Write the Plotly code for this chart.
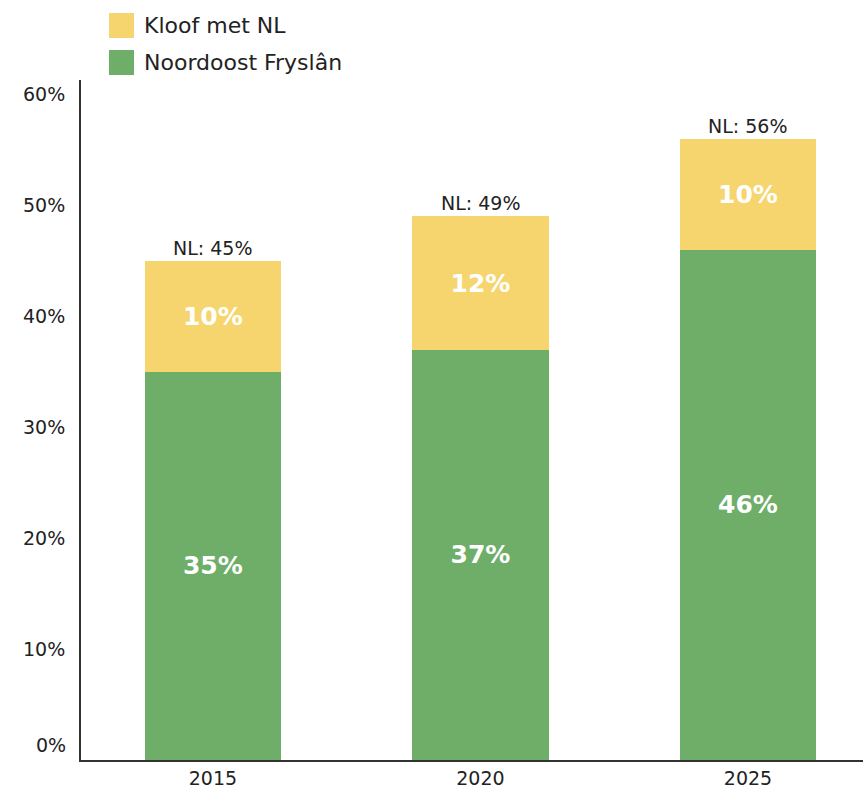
import plotly.graph_objects as go

years = ["2015", "2020", "2025"]
noordoost = [35, 37, 46]
kloof = [10, 12, 10]
nl_totaal = [45, 49, 56]
ytick_vals = [10, 20, 30, 40, 50, 60]

GREEN = "#6EAE69"
YELLOW = "#F6D56F"
FONT = "DejaVu Sans"
TXT = "#222"

fig = go.Figure()
fig.add_bar(x=years, y=noordoost, name="Noordoost Fryslân", marker=dict(color=GREEN, line_width=0),
            text=[f"{v}%" for v in noordoost], textposition="inside", insidetextanchor="middle",
            textfont=dict(color="white", size=25, family=FONT, weight="bold"), width=0.51)
fig.add_bar(x=years, y=kloof, name="Kloof met NL", marker=dict(color=YELLOW, line_width=0),
            text=[f"{v}%" for v in kloof], textposition="inside", insidetextanchor="middle",
            textfont=dict(color="white", size=25, family=FONT, weight="bold"), width=0.51)

for i, t in enumerate(nl_totaal):
    fig.add_annotation(x=i, y=t, xref="x", yref="y", text=f"NL: {t}%", showarrow=False,
                       yanchor="bottom", yshift=0,
                       font=dict(size=19, color=TXT, family=FONT))

# 0% label (drawn slightly above the axis as in the original)
fig.add_annotation(x=0, xref="paper", y=1.35, yref="y", text="0%", showarrow=False,
                   xanchor="right", xshift=-13, font=dict(size=19, color=TXT, family=FONT))

# manual legend
legend_items = [("Kloof met NL", YELLOW), ("Noordoost Fryslân", GREEN)]
W, H, L, T, B = 863, 789, 81, 80, 29
ph = H - T - B
pw = W - L
for i, (name, col) in enumerate(legend_items):
    top = 13 + i * 37
    fig.add_shape(type="rect", xref="paper", yref="paper",
                  x0=(109 - L) / pw, x1=(134 - L) / pw,
                  y0=(H - B - top - 25) / ph, y1=(H - B - top) / ph,
                  fillcolor=col, line_width=0)
    fig.add_annotation(xref="paper", yref="paper", x=(142 - L) / pw, y=(H - B - top - 12.5) / ph,
                       text=name, showarrow=False, xanchor="left", yanchor="middle",
                       font=dict(size=22, color=TXT, family=FONT))

fig.update_layout(
    barmode="stack", width=W, height=H, showlegend=False,
    margin=dict(l=L, r=0, t=T, b=B, autoexpand=False),
    plot_bgcolor="white", paper_bgcolor="white",
    font=dict(family=FONT, size=19, color=TXT),
    xaxis=dict(type="category", range=[-0.493, 2.43], showline=True, linecolor="#333", linewidth=2,
               ticks="", tickfont=dict(size=19), showgrid=False, automargin=False),
    yaxis=dict(range=[0, 61.3], showline=True, linecolor="#333", linewidth=2,
               tickvals=ytick_vals, ticktext=[f"{v}%" for v in ytick_vals], ticklabelstandoff=10,
               ticks="", showgrid=False, zeroline=False, tickfont=dict(size=19), automargin=False),
)
fig.write_html("out.html", config={"displayModeBar": False},
               post_script="document.body.style.margin='0';document.body.style.padding='0';")
